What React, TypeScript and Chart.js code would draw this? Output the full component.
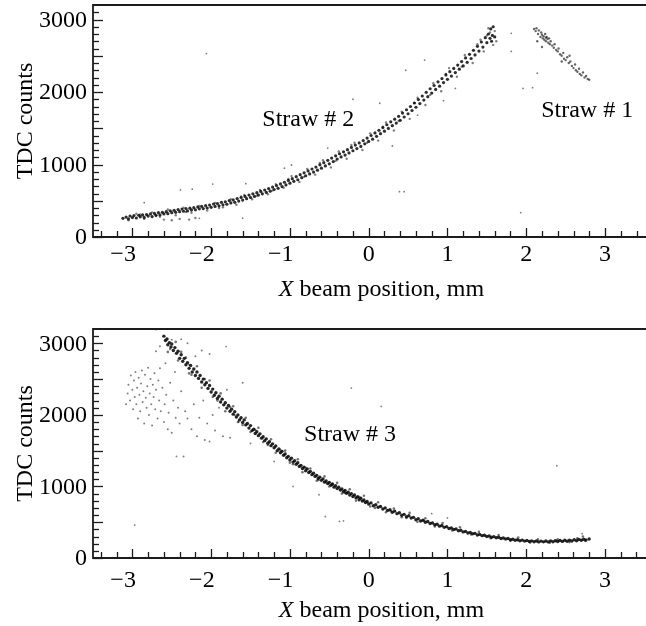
import React, { useEffect, useRef } from 'react';
import { Chart, registerables } from 'chart.js';

Chart.register(...registerables);

const FONT = '"Liberation Serif", "Times New Roman", serif';

// ---------- Top panel: Straw #2 (main band) ----------
const straw2Core: [number, number][] = [
  [-3.12, 258], [-3.08, 275], [-3.05, 250], [-3.03, 290], [-3.0, 268], [-2.98, 295], [-2.95, 262], [-2.92, 300],
  [-2.9, 278], [-2.87, 305], [-2.85, 270], [-2.82, 310], [-2.8, 288], [-2.77, 318], [-2.75, 282], [-2.72, 325],
  [-2.7, 300], [-2.67, 335], [-2.65, 305], [-2.62, 340], [-2.6, 318], [-2.57, 350], [-2.55, 322], [-2.52, 362],
  [-2.5, 335], [-2.47, 368], [-2.45, 340], [-2.42, 378], [-2.4, 350], [-2.37, 385], [-2.35, 355], [-2.32, 392],
  [-2.3, 360], [-2.27, 398], [-2.25, 372], [-2.22, 405], [-2.2, 375], [-2.17, 415], [-2.15, 388], [-2.12, 422],
  [-2.1, 392], [-2.07, 432], [-2.05, 400], [-2.02, 440], [-2.0, 410], [-1.97, 455], [-1.95, 422], [-1.92, 462],
  [-1.9, 430], [-1.87, 478], [-1.85, 445], [-1.82, 485], [-1.8, 452], [-1.77, 502], [-1.75, 470], [-1.72, 512],
  [-1.7, 478], [-1.67, 530], [-1.65, 495], [-1.62, 545], [-1.6, 510], [-1.57, 560], [-1.55, 528], [-1.52, 578],
  [-1.5, 545], [-1.47, 595], [-1.45, 560], [-1.42, 612], [-1.4, 578], [-1.37, 628], [-1.35, 595], [-1.32, 648],
  [-1.3, 615], [-1.27, 668], [-1.25, 632], [-1.22, 688], [-1.2, 655], [-1.17, 710], [-1.15, 672], [-1.12, 732],
  [-1.1, 695], [-1.07, 755], [-1.05, 718], [-1.02, 780], [-1.0, 742], [-0.97, 805], [-0.95, 768], [-0.92, 832],
  [-0.9, 790], [-0.87, 860], [-0.85, 818], [-0.82, 885], [-0.8, 845], [-0.77, 912], [-0.75, 870], [-0.72, 938],
  [-0.7, 895], [-0.67, 965], [-0.65, 922], [-0.62, 995], [-0.6, 950], [-0.57, 1025], [-0.55, 980], [-0.52, 1058],
  [-0.5, 1010], [-0.47, 1088], [-0.45, 1040], [-0.42, 1120], [-0.4, 1075], [-0.37, 1148], [-0.35, 1105], [-0.32, 1175],
  [-0.3, 1130], [-0.27, 1205], [-0.25, 1160], [-0.22, 1235], [-0.2, 1190], [-0.17, 1268], [-0.15, 1220], [-0.12, 1298],
  [-0.1, 1250], [-0.07, 1330], [-0.05, 1285], [-0.02, 1365], [0.0, 1318], [0.03, 1400], [0.05, 1350], [0.08, 1435],
  [0.1, 1388], [0.13, 1472], [0.15, 1425], [0.18, 1510], [0.2, 1460], [0.23, 1548], [0.25, 1498], [0.28, 1588],
  [0.3, 1535], [0.33, 1625], [0.35, 1572], [0.38, 1665], [0.4, 1610], [0.43, 1710], [0.45, 1655], [0.48, 1755],
  [0.5, 1700], [0.53, 1800], [0.55, 1745], [0.58, 1848], [0.6, 1790], [0.63, 1895], [0.65, 1840], [0.68, 1945],
  [0.7, 1888], [0.73, 1995], [0.75, 1935], [0.78, 2045], [0.8, 1985], [0.83, 2090], [0.85, 2035], [0.88, 2140],
  [0.9, 2080], [0.93, 2185], [0.95, 2130], [0.98, 2235], [1.0, 2175], [1.03, 2280], [1.05, 2220], [1.08, 2325],
  [1.1, 2268], [1.13, 2372], [1.15, 2315], [1.18, 2420], [1.2, 2360], [1.23, 2470], [1.25, 2410], [1.28, 2520],
  [1.3, 2462], [1.33, 2575], [1.35, 2512], [1.38, 2630], [1.4, 2565], [1.43, 2690], [1.45, 2620], [1.48, 2750],
  [1.5, 2680], [1.52, 2800], [1.54, 2740], [1.55, 2870], [1.57, 2780], [1.58, 2900], [1.56, 2700], [1.6, 2760],
];

const straw2Halo: [number, number][] = [
  [-3.05, 230], [-2.95, 320], [-2.85, 250], [-2.75, 340], [-2.65, 280], [-2.55, 380], [-2.45, 300], [-2.35, 405],
  [-2.28, 240], [-2.25, 335], [-2.15, 430], [-2.05, 365], [-1.95, 470], [-1.85, 410], [-1.75, 520], [-1.68, 445],
  [-1.58, 580], [-1.48, 520], [-1.38, 650], [-1.28, 590], [-1.18, 730], [-1.08, 680], [-0.98, 840], [-0.88, 760],
  [-0.78, 940], [-0.68, 860], [-0.58, 1060], [-0.48, 960], [-0.38, 1180], [-0.28, 1080], [-0.18, 1300], [-0.08, 1200],
  [0.02, 1430], [0.12, 1330], [0.22, 1580], [0.32, 1470], [0.42, 1730], [0.52, 1630], [0.62, 1920], [0.72, 1820],
  [0.82, 2120], [0.92, 2010], [1.02, 2330], [1.12, 2210], [1.22, 2510], [1.32, 2400], [1.42, 2720], [1.46, 2560],
  [1.52, 2880], [1.58, 2650], [1.6, 2840], [1.62, 2700], [-2.6, 240], [-2.4, 250], [-2.2, 262], [-2.5, 232],
  [-2.9, 310], [-2.7, 290], [-2.32, 345], [-1.9, 400], [-1.62, 560], [-1.42, 570], [-1.22, 640], [-1.02, 800],
  [-0.82, 830], [-0.62, 1020], [-0.42, 1050], [-0.22, 1270], [-0.02, 1300], [0.18, 1520], [0.38, 1600], [0.58, 1850],
  [0.78, 1960], [0.98, 2250], [1.18, 2350], [1.38, 2660], [1.5, 2780], [1.54, 2820],
];

const straw2Stray: [number, number][] = [
  [-2.06, 2530], [-2.24, 660], [-2.39, 650], [-1.98, 730], [-1.56, 735], [-1.6, 260], [-2.15, 258], [-2.85, 473],
  [0.71, 2441], [0.47, 2300], [-0.2, 1900], [0.14, 1845], [0.39, 625], [0.45, 625], [-0.98, 993], [-1.07, 950],
  [-0.52, 1227], [0.3, 1255], [1.81, 2810], [1.81, 2560], [1.96, 2050], [2.08, 2060], [1.93, 335], [2.14, 2260],
  [0.62, 1680], [1.1, 2050], [0.95, 1880],
];

// ---------- Top panel: Straw #1 ----------
const straw1Points: [number, number][] = [
  [2.1, 2870], [2.12, 2840], [2.13, 2880], [2.15, 2800], [2.16, 2850], [2.18, 2760], [2.19, 2820], [2.2, 2790],
  [2.21, 2740], [2.22, 2770], [2.23, 2720], [2.24, 2800], [2.25, 2750], [2.25, 2700], [2.26, 2760], [2.27, 2730],
  [2.28, 2680], [2.29, 2740], [2.3, 2660], [2.31, 2700], [2.33, 2640], [2.35, 2610], [2.36, 2660], [2.38, 2580],
  [2.4, 2560], [2.41, 2600], [2.43, 2520], [2.45, 2500], [2.47, 2540], [2.48, 2460], [2.5, 2440], [2.52, 2480],
  [2.54, 2400], [2.56, 2420], [2.58, 2360], [2.6, 2330], [2.62, 2380], [2.63, 2300], [2.65, 2280], [2.67, 2320],
  [2.68, 2250], [2.7, 2230], [2.72, 2270], [2.74, 2200], [2.76, 2220], [2.78, 2180], [2.8, 2170], [2.2, 2620],
  [2.14, 2700], [2.45, 2420], [2.55, 2500],
];

// ---------- Bottom panel: Straw #3 ----------
const straw3Core: [number, number][] = [
  [-2.6, 3100], [-2.58, 3040], [-2.56, 3060], [-2.55, 2980], [-2.53, 3010], [-2.51, 2950], [-2.5, 2990], [-2.48, 2900],
  [-2.46, 2940], [-2.44, 2860], [-2.42, 2890], [-2.4, 2790], [-2.38, 2840], [-2.36, 2750], [-2.34, 2790], [-2.32, 2700],
  [-2.3, 2730], [-2.28, 2650], [-2.26, 2690], [-2.24, 2600], [-2.22, 2640], [-2.2, 2550], [-2.18, 2600], [-2.16, 2510],
  [-2.14, 2550], [-2.12, 2460], [-2.1, 2500], [-2.08, 2420], [-2.06, 2450], [-2.04, 2370], [-2.02, 2410], [-2.0, 2320],
  [-1.98, 2360], [-1.96, 2275], [-1.94, 2310], [-1.92, 2230], [-1.9, 2260], [-1.88, 2180], [-1.86, 2220], [-1.84, 2140],
  [-1.82, 2170], [-1.8, 2095], [-1.78, 2130], [-1.76, 2050], [-1.74, 2080], [-1.72, 2010], [-1.7, 2045], [-1.68, 1970],
  [-1.66, 2000], [-1.64, 1930], [-1.62, 1960], [-1.6, 1895], [-1.58, 1930], [-1.56, 1860], [-1.54, 1880], [-1.52, 1815],
  [-1.5, 1850], [-1.48, 1780], [-1.46, 1800], [-1.44, 1740], [-1.42, 1765], [-1.4, 1710], [-1.38, 1735], [-1.36, 1675],
  [-1.34, 1695], [-1.32, 1640], [-1.3, 1665], [-1.28, 1605], [-1.26, 1625], [-1.24, 1570], [-1.22, 1595], [-1.2, 1540],
  [-1.18, 1565], [-1.16, 1500], [-1.14, 1525], [-1.12, 1470], [-1.1, 1490], [-1.08, 1435], [-1.06, 1455], [-1.04, 1400],
  [-1.02, 1420], [-1.0, 1370], [-0.98, 1395], [-0.96, 1340], [-0.94, 1360], [-0.92, 1310], [-0.9, 1330], [-0.88, 1280],
  [-0.86, 1295], [-0.84, 1250], [-0.82, 1270], [-0.8, 1220], [-0.78, 1245], [-0.76, 1195], [-0.74, 1210], [-0.72, 1165],
  [-0.7, 1185], [-0.68, 1140], [-0.66, 1155], [-0.64, 1110], [-0.62, 1130], [-0.6, 1085], [-0.58, 1105], [-0.56, 1060],
  [-0.54, 1075], [-0.52, 1040], [-0.5, 1055], [-0.48, 1015], [-0.46, 1030], [-0.44, 990], [-0.42, 1010], [-0.4, 970],
  [-0.38, 990], [-0.36, 950], [-0.34, 965], [-0.32, 925], [-0.3, 945], [-0.28, 905], [-0.26, 920], [-0.24, 880],
  [-0.22, 900], [-0.2, 860], [-0.18, 880], [-0.16, 840], [-0.14, 855], [-0.12, 815], [-0.1, 835], [-0.08, 795],
  [-0.06, 810], [-0.04, 775], [-0.02, 790], [0.0, 755], [0.03, 770], [0.06, 730], [0.09, 745], [0.12, 710],
  [0.15, 720], [0.18, 685], [0.21, 700], [0.24, 665], [0.27, 675], [0.3, 640], [0.33, 655], [0.36, 620],
  [0.39, 632], [0.42, 598], [0.45, 610], [0.48, 578], [0.51, 590], [0.54, 558], [0.57, 568], [0.6, 535],
  [0.63, 548], [0.66, 518], [0.69, 528], [0.72, 500], [0.75, 510], [0.78, 482], [0.81, 490], [0.84, 465],
  [0.87, 472], [0.9, 445], [0.93, 455], [0.96, 428], [0.99, 438], [1.02, 412], [1.05, 420], [1.08, 398],
  [1.11, 405], [1.14, 380], [1.17, 388], [1.2, 365], [1.23, 372], [1.26, 350], [1.29, 358], [1.32, 338],
  [1.35, 344], [1.38, 322], [1.41, 330], [1.44, 312], [1.47, 318], [1.5, 300], [1.53, 308], [1.56, 290],
  [1.59, 298], [1.62, 282], [1.65, 290], [1.68, 272], [1.71, 280], [1.74, 265], [1.77, 272], [1.8, 255],
  [1.83, 262], [1.86, 248], [1.89, 256], [1.92, 242], [1.95, 250], [1.98, 236], [2.01, 245], [2.04, 232],
  [2.07, 240], [2.1, 228], [2.13, 238], [2.16, 225], [2.19, 236], [2.22, 226], [2.25, 238], [2.28, 225],
  [2.31, 240], [2.34, 228], [2.37, 242], [2.4, 230], [2.43, 245], [2.46, 232], [2.49, 248], [2.52, 235],
  [2.55, 250], [2.58, 238], [2.61, 255], [2.64, 242], [2.67, 258], [2.7, 248], [2.73, 262], [2.76, 252], [2.8, 265],
];

const straw3Halo: [number, number][] = [
  [-2.55, 2880], [-2.45, 3020], [-2.42, 2760], [-2.32, 2800], [-2.28, 2580], [-2.18, 2680], [-2.12, 2380], [-2.02, 2480],
  [-1.98, 2250], [-1.88, 2300], [-1.82, 2050], [-1.72, 2120], [-1.66, 1900], [-1.56, 1960], [-1.5, 1760], [-1.4, 1820],
  [-1.34, 1620], [-1.24, 1660], [-1.18, 1470], [-1.06, 1500], [-1.0, 1330], [-0.9, 1380], [-0.84, 1200], [-0.74, 1250],
  [-0.66, 1080], [-0.56, 1140], [-0.5, 1000], [-0.4, 1050], [-0.34, 900], [-0.24, 960], [-0.16, 800], [-0.06, 870],
  [0.02, 720], [0.12, 780], [0.22, 640], [0.32, 690], [0.42, 570], [0.52, 630], [0.62, 505], [0.72, 555],
  [0.84, 440], [0.94, 490], [1.06, 385], [1.16, 430], [1.3, 330], [1.4, 365], [1.55, 275], [1.65, 320],
  [1.8, 240], [1.9, 285], [2.05, 215], [2.15, 260], [2.3, 212], [2.4, 262], [2.55, 222], [2.65, 275],
  [2.75, 240], [2.72, 300], [-2.52, 2920], [-2.38, 2880], [-2.25, 2560], [-2.08, 2500], [-1.92, 2200], [-1.76, 2110],
  [-1.6, 1860], [-1.44, 1790], [-1.28, 1580], [-1.12, 1510], [-0.96, 1310], [-0.8, 1260], [-0.64, 1090], [-0.46, 1040],
  [-0.3, 910], [-0.12, 850], [0.08, 700], [0.28, 660], [0.48, 560], [0.7, 525],
];

const straw3Cloud: [number, number][] = [
  [-3.08, 2150], [-3.06, 2300], [-3.05, 2420], [-3.03, 2200], [-3.02, 2550], [-3.0, 2350], [-2.99, 2080], [-2.98, 2480],
  [-2.97, 2250], [-2.96, 2600], [-2.95, 2150], [-2.94, 2380], [-2.93, 1950], [-2.92, 2520], [-2.91, 2280], [-2.9, 2050],
  [-2.89, 2440], [-2.88, 2620], [-2.87, 2180], [-2.86, 2330], [-2.85, 1880], [-2.84, 2560], [-2.83, 2240], [-2.82, 2100],
  [-2.81, 2400], [-2.8, 2660], [-2.79, 2000], [-2.78, 2300], [-2.77, 2500], [-2.76, 2150], [-2.75, 1850], [-2.74, 2420],
  [-2.73, 2250], [-2.72, 2580], [-2.71, 2080], [-2.7, 2350], [-2.68, 1950], [-2.67, 2480], [-2.66, 2200], [-2.65, 2650],
  [-2.64, 2050], [-2.62, 2380], [-2.6, 1900], [-2.59, 2150], [-2.58, 2720], [-2.57, 2280], [-2.55, 1800], [-2.54, 2030],
  [-2.52, 2450], [-2.5, 1750], [-2.48, 2200], [-2.46, 2600], [-2.45, 1960], [-2.42, 2100], [-2.4, 1880], [-2.38, 2330],
  [-2.35, 1420], [-2.33, 2050], [-2.3, 1950], [-2.28, 2700], [-2.25, 1800], [-2.22, 2150], [-2.2, 2820], [-2.18, 1700],
  [-2.15, 1960], [-2.12, 2900], [-2.1, 2200], [-2.08, 1650], [-2.05, 1880], [-2.02, 2850], [-1.98, 2000], [-1.95, 1780],
  [-1.9, 2100], [-1.85, 1700], [-1.8, 2350], [-1.76, 1680], [-1.7, 2000], [-1.65, 1900], [-1.6, 2450], [-2.65, 2960],
  [-2.5, 3050], [-2.3, 3000], [-2.7, 2890],
];

const straw3Stray: [number, number][] = [
  [-2.97, 460], [-0.22, 2374], [0.16, 2118], [2.39, 1289], [2.71, 340], [-1.81, 2955], [-2.44, 1419], [-2.02, 1628],
  [-2.7, 3190], [-2.38, 3058], [-0.63, 884], [-0.55, 580], [-0.96, 1000], [-0.37, 511], [-0.32, 520], [-1.5, 1600],
  [-1.2, 1350], [0.8, 620], [1.0, 560],
];

// ---------- Axes ----------
const X_MIN = -3.5;
const X_MAX = 3.5;
const Y_MIN = 0;
const Y_MAX = 3200;
const xTickLabels = [-3, -2, -1, 0, 1, 2, 3];
const yTickLabels = [0, 1000, 2000, 3000];
const X_TITLE_ITALIC = 'X';
const X_TITLE_REST = ' beam position, mm';
const Y_TITLE = 'TDC counts';

const topLabels = [
  { text: 'Straw # 2', x: -1.35, y: 1530 },
  { text: 'Straw # 1', x: 2.19, y: 1660 },
];
const bottomLabels = [{ text: 'Straw # 3', x: -0.82, y: 1630 }];

const toXY = (pts: [number, number][]) => pts.map(([x, y]) => ({ x, y }));

const framePlugin = {
  id: 'frame',
  afterDatasetsDraw(chart: any, _args: any, opts: any) {
    const { ctx, chartArea: a, scales } = chart;
    const xs = scales.x;
    const ys = scales.y;
    ctx.save();
    ctx.strokeStyle = '#1c1c1c';
    ctx.lineWidth = 1.3;
    for (let k = 0; k <= 31; k++) {
      const py = Math.round(ys.getPixelForValue(k * 100)) + 0.5;
      const len = k % 5 === 0 ? 10 : 6;
      ctx.beginPath();
      ctx.moveTo(a.left, py);
      ctx.lineTo(a.left + len, py);
      ctx.stroke();
    }
    for (let k = -17; k <= 17; k++) {
      const px = Math.round(xs.getPixelForValue(k / 5)) + 0.5;
      const len = k % 5 === 0 ? 9 : 6;
      ctx.beginPath();
      ctx.moveTo(px, a.bottom);
      ctx.lineTo(px, a.bottom - len);
      ctx.stroke();
    }
    ctx.lineWidth = 1.8;
    ctx.beginPath();
    ctx.moveTo(chart.width, a.top);
    ctx.lineTo(a.left, a.top);
    ctx.lineTo(a.left, a.bottom);
    ctx.lineTo(chart.width, a.bottom);
    ctx.stroke();

    ctx.fillStyle = '#000';
    ctx.font = `24px ${FONT}`;
    ctx.textAlign = 'right';
    ctx.textBaseline = 'middle';
    for (const v of yTickLabels) {
      ctx.fillText(String(v), a.left - 6, ys.getPixelForValue(v) + 1);
    }
    ctx.textBaseline = 'alphabetic';
    const lby = a.bottom + opts.tickBase;
    for (const v of xTickLabels) {
      const px = xs.getPixelForValue(v);
      if (v < 0) {
        ctx.textAlign = 'right';
        ctx.fillText('\u2212' + Math.abs(v), px + 3.5, lby);
      } else {
        ctx.textAlign = 'center';
        ctx.fillText(String(v), px, lby);
      }
    }
    ctx.textAlign = 'left';
    for (const lb of opts.labels || []) {
      ctx.fillText(lb.text, xs.getPixelForValue(lb.x), ys.getPixelForValue(lb.y));
    }
    ctx.font = `italic 24px ${FONT}`;
    const w1 = ctx.measureText(X_TITLE_ITALIC).width;
    ctx.font = `24px ${FONT}`;
    const w2 = ctx.measureText(X_TITLE_REST).width;
    const cx = a.left + 288.5;
    const by = a.bottom + opts.titleBase;
    const sx = cx - (w1 + w2) / 2;
    ctx.font = `italic 24px ${FONT}`;
    ctx.fillText(X_TITLE_ITALIC, sx, by);
    ctx.font = `24px ${FONT}`;
    ctx.fillText(X_TITLE_REST, sx + w1, by);
    ctx.restore();
  },
};

function buildConfig(datasets: any[], labels: any[], topPad: number, tickBase: number, titleBase: number): any {
  return {
    type: 'scatter',
    data: { datasets },
    plugins: [framePlugin],
    options: {
      animation: false,
      responsive: false,
      maintainAspectRatio: false,
      devicePixelRatio: 1,
      layout: { padding: { top: topPad, left: 0, right: 1, bottom: 0 } },
      plugins: {
        legend: { display: false },
        tooltip: { enabled: false },
        frame: { labels, tickBase, titleBase },
      },
      elements: { point: { borderWidth: 0, pointStyle: 'circle' } },
      scales: {
        x: {
          type: 'linear',
          min: X_MIN,
          max: X_MAX,
          grid: { display: false, drawTicks: false },
          border: { display: false },
          ticks: { display: false },
          afterFit: (s: any) => {
            s.height = 68;
            s.paddingLeft = 0;
            s.paddingRight = 0;
          },
        },
        y: {
          type: 'linear',
          min: Y_MIN,
          max: Y_MAX,
          grid: { display: false, drawTicks: false },
          border: { display: false },
          title: {
            display: true,
            text: Y_TITLE,
            color: '#000',
            font: { family: FONT, size: 24 },
            padding: { top: 11, bottom: 0 },
          },
          ticks: { display: false },
          afterFit: (s: any) => {
            s.width = 93;
            s.paddingTop = 0;
            s.paddingBottom = 0;
          },
        },
      },
    },
  };
}

const ds = (pts: [number, number][], color: string, r: number) => ({
  data: toXY(pts),
  backgroundColor: color,
  pointRadius: r,
  pointHoverRadius: r,
  borderWidth: 0,
});

function Panel({ height, topPad, datasets, labels, tickBase, titleBase }: any) {
  const ref = useRef<HTMLCanvasElement | null>(null);
  useEffect(() => {
    if (!ref.current) return;
    const chart = new Chart(ref.current, buildConfig(datasets, labels, topPad, tickBase, titleBase));
    return () => chart.destroy();
  }, []);
  return <canvas ref={ref} width={646} height={height} style={{ display: 'block', width: 646, height }} />;
}

export default function App() {
  const topSets = [
    ds(straw2Stray, 'rgba(0,0,0,0.5)', 0.9),
    ds(straw2Halo, 'rgba(0,0,0,0.5)', 1.2),
    ds(straw1Points, 'rgba(0,0,0,0.6)', 1.2),
    ds(straw2Core, 'rgba(0,0,0,0.82)', 1.6),
  ];
  const bottomSets = [
    ds(straw3Stray, 'rgba(0,0,0,0.5)', 0.9),
    ds(straw3Cloud, 'rgba(0,0,0,0.5)', 1.0),
    ds(straw3Halo, 'rgba(0,0,0,0.55)', 1.3),
    ds(straw3Core, 'rgba(0,0,0,0.85)', 1.7),
  ];
  return (
    <div style={{ position: 'absolute', left: 0, top: 0, width: 646, height: 626, background: '#fff' }}>
      <Panel height={305} topPad={5} datasets={topSets} labels={topLabels} tickBase={24} titleBase={59} />
      <Panel height={321} topPad={24} datasets={bottomSets} labels={bottomLabels} tickBase={29} titleBase={59} />
    </div>
  );
}
